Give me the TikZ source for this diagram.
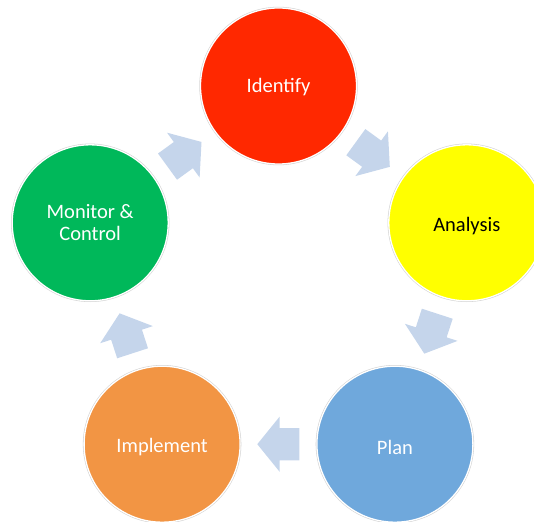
\documentclass[tikz,border=0pt]{standalone}
\usepackage{fontspec}
\setmainfont{Carlito}
\usetikzlibrary{shapes.arrows,calc}
\definecolor{cRed}{RGB}{255,40,0}
\definecolor{cYellow}{RGB}{255,255,0}
\definecolor{cBlue}{RGB}{111,168,220}
\definecolor{cOrange}{RGB}{242,149,68}
\definecolor{cGreen}{RGB}{0,184,90}
\definecolor{cArrow}{RGB}{197,213,235}
\newcommand{\lowtext}[2]{\raisebox{-#1}[\height][\depth]{#2}}
\tikzset{
  stage/.style={circle, minimum size=156pt, inner sep=0pt, draw=white, line width=1.3pt,
    preaction={draw=black!18, line width=2.4pt},
    font=\fontsize{20.5}{22}\selectfont, align=center, text=white},
  flow/.style={single arrow, fill=cArrow, draw=none, inner xsep=0pt, inner ysep=16pt,
    minimum height=42pt, single arrow head extend=11.5pt,
    single arrow tip angle=102, anchor=tail}
}
\begin{document}
\begin{tikzpicture}[x=1pt,y=-1pt]
\useasboundingbox (0,0) rectangle (534,521);
\clip (0,0) rectangle (534,521);
\node[stage, fill=cRed] (ide) at (278.5,86) {\lowtext{1.5pt}{Identify}};
\node[stage, fill=cYellow, text=black] (ana) at (466.8,222.8) {\lowtext{3pt}{Analysis}};
\node[stage, fill=cBlue] (pla) at (394.9,444.2) {\lowtext{3pt}{Plan}};
\node[stage, fill=cOrange] (imp) at (162.1,444.2) {\lowtext{3pt}{Implement}};
\node[stage, fill=cGreen] (mon) at (90.2,222.8) {Monitor \&\\Control};
\node[flow, rotate=36] (a1) at ($($(mon)!0.5!(ide)$)!21pt!(mon)$) {};
\node[flow, rotate=-36] (a2) at ($($(ide)!0.5!(ana)$)!21pt!(ide)$) {};
\node[flow, rotate=-108] (a3) at ($($(ana)!0.5!(pla)$)!21pt!(ana)$) {};
\node[flow, rotate=180] (a4) at ($($(pla)!0.5!(imp)$)!21pt!(pla)$) {};
\node[flow, rotate=108] (a5) at ($($(imp)!0.5!(mon)$)!21pt!(imp)$) {};
\end{tikzpicture}
\end{document}
